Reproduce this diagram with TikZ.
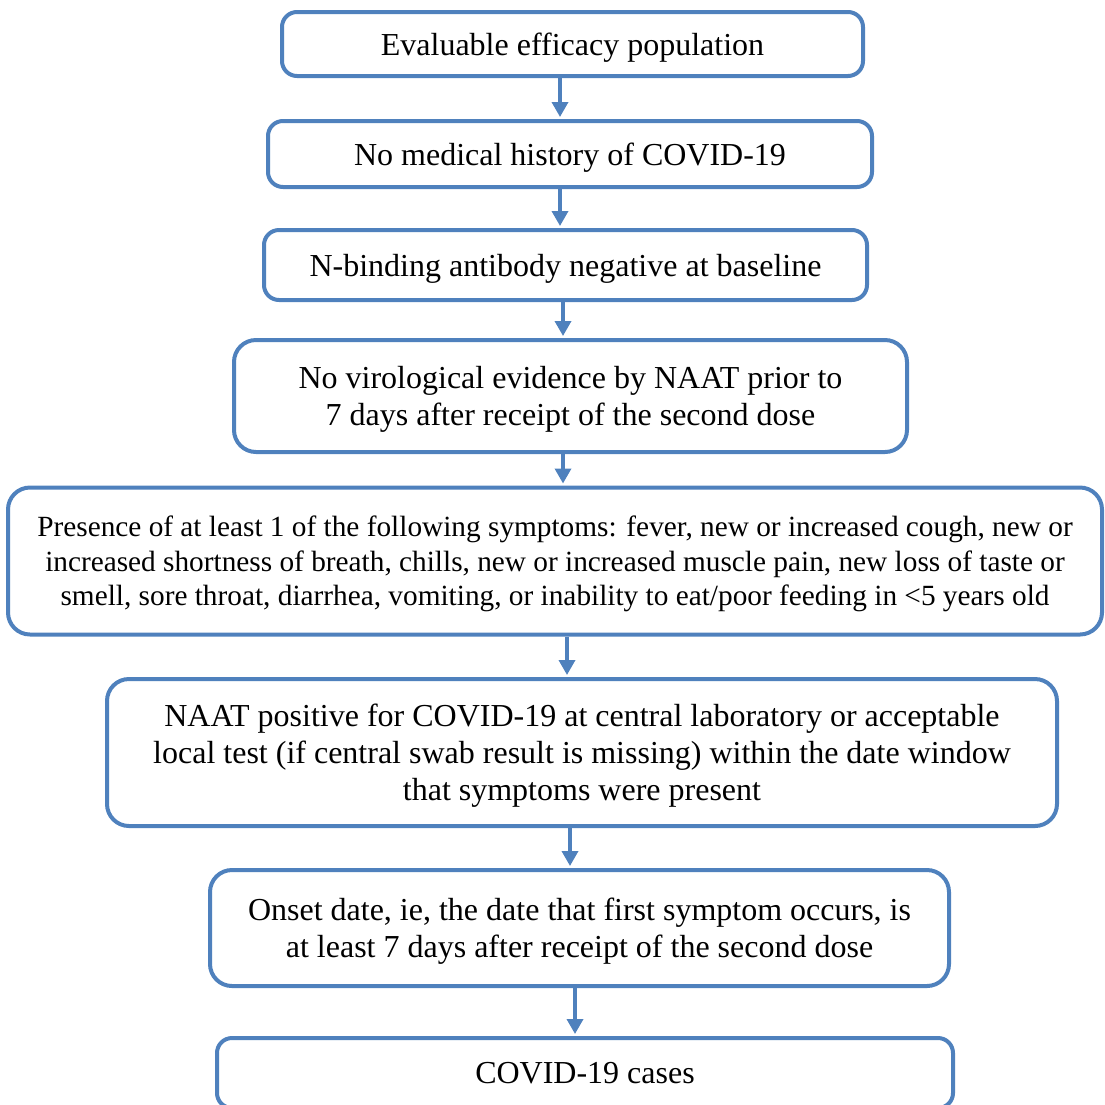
\documentclass[tikz,border=0pt]{standalone}
\usepackage{fontspec}
\setmainfont{Liberation Serif}
\usetikzlibrary{arrows.meta}
\definecolor{bblue}{HTML}{4F81BD}
\begin{document}
\begin{tikzpicture}[x=1pt,y=-1pt,
  box/.style={draw=bblue,line width=4pt,rounded corners=15pt,fill=white,align=center,
    inner sep=0pt,text depth=0pt,font=\fontsize{32}{37}\selectfont},
  bigbox/.style={box,rounded corners=22pt},
  arr/.style={draw=bblue,line width=3.5pt,-{Triangle[width=16pt,length=15pt]}}]
\useasboundingbox (0,0) rectangle (1105,1104);
\node[box,minimum width=581pt,minimum height=64pt] (b1) at (572.5,44) {Evaluable efficacy population};
\node[box,minimum width=604pt,minimum height=66pt] (b2) at (570,154) {No medical history of COVID-19};
\node[box,minimum width=603pt,minimum height=70pt] (b3) at (565.5,265) {N-binding antibody negative at baseline};
\node[bigbox,minimum width=673pt,minimum height=112pt] (b4) at (570.5,396) {No virological evidence by NAAT prior to\\7 days after receipt of the second dose};
\node[bigbox,minimum width=1094pt,minimum height=147pt,font=\fontsize{29.3}{34.5}\selectfont] (b5) at (555,561) {Presence of at least 1 of the following symptoms: fever, new or increased cough, new or\\increased shortness of breath, chills, new or increased muscle pain, new loss of taste or\\smell, sore throat, diarrhea, vomiting, or inability to eat/poor feeding in <5 years old};
\node[bigbox,minimum width=950pt,minimum height=147pt] (b6) at (582,752.5) {NAAT positive for COVID-19 at central laboratory or acceptable\\local test (if central swab result is missing) within the date window\\that symptoms were present};
\node[bigbox,minimum width=739pt,minimum height=116pt] (b7) at (579.5,928) {Onset date, ie, the date that first symptom occurs, is\\at least 7 days after receipt of the second dose};
\node[box,minimum width=736pt,minimum height=70pt] (b8) at (585,1073) {COVID-19 cases};
\coordinate (x1) at (560,0);
\coordinate (x2) at (560,0);
\coordinate (x3) at (563,0);
\coordinate (x4) at (563,0);
\coordinate (x5) at (567,0);
\coordinate (x6) at (570,0);
\coordinate (x7) at (575,0);
\draw[arr] (b1.south -| x1) -- ([yshift=2pt]b2.north -| x1);
\draw[arr] (b2.south -| x2) -- ([yshift=2pt]b3.north -| x2);
\draw[arr] (b3.south -| x3) -- ([yshift=2pt]b4.north -| x3);
\draw[arr] (b4.south -| x4) -- ([yshift=2pt]b5.north -| x4);
\draw[arr] (b5.south -| x5) -- ([yshift=2pt]b6.north -| x5);
\draw[arr] (b6.south -| x6) -- ([yshift=2pt]b7.north -| x6);
\draw[arr] (b7.south -| x7) -- ([yshift=2pt]b8.north -| x7);
\end{tikzpicture}
\end{document}
